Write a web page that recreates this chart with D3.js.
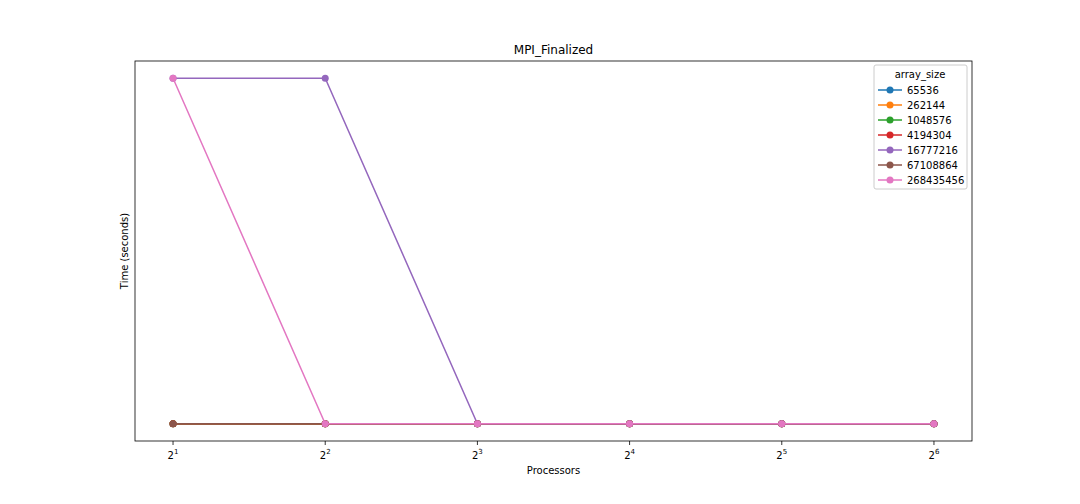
<!DOCTYPE html>
<html><head><meta charset="utf-8">
<script src="https://cdn.jsdelivr.net/npm/d3@7"></script>
<style>body{margin:0;background:#fff}text{font-family:"DejaVu Sans",sans-serif}</style>
</head><body><svg id="c" width="1080" height="504"></svg>
<script>
const procs=[2,4,8,16,32,64];
const seriesNames=["65536","262144","1048576","4194304","16777216","67108864","268435456"];
const colors=["#1f77b4","#ff7f0e","#2ca02c","#d62728","#9467bd","#8c564b","#e377c2"];
const values=[
 [0,0,0,0,0,0],
 [0,0,0,0,0,0],
 [0,0,0,0,0,0],
 [0,0,0,0,0,0],
 [1,1,0,0,0,0],
 [0,0,0,0,0,0],
 [1,0,0,0,0,0]
];
const svg=d3.select("#c");
const L=135,R=972,T=61,B=441;
const x=d3.scaleLog().base(2).domain([2*Math.pow(2,-0.25),64*Math.pow(2,0.25)]).range([L,R]);
const y=d3.scaleLinear().domain([-0.05,1.05]).range([B,T]);
svg.append("text").attr("x",(L+R)/2).attr("y",54).attr("text-anchor","middle").attr("font-size",12).text("MPI_Finalized");
const line=d3.line().x((d,i)=>x(procs[i])).y(d=>y(d));
values.forEach((v,s)=>{
 const g=svg.append("g");
 g.append("path").attr("d",line(v)).attr("fill","none").attr("stroke",colors[s]).attr("stroke-width",1.5);
 g.selectAll("circle").data(v).join("circle").attr("cx",(d,i)=>x(procs[i])).attr("cy",d=>y(d)).attr("r",3.5).attr("fill",colors[s]);
});
svg.append("rect").attr("x",L).attr("y",T).attr("width",R-L).attr("height",B-T).attr("fill","none").attr("stroke","#000").attr("stroke-width",0.8);
procs.forEach((p,i)=>{
 const px=x(p);
 svg.append("line").attr("x1",px).attr("x2",px).attr("y1",B).attr("y2",B+4).attr("stroke","#000").attr("stroke-width",0.8);
 const t=svg.append("text").attr("x",px).attr("y",B+18).attr("text-anchor","middle").attr("font-size",10);
 t.append("tspan").text("2");
 t.append("tspan").attr("dy",-5).attr("font-size",7).text(i+1);
});
svg.append("text").attr("x",(L+R)/2).attr("y",474).attr("text-anchor","middle").attr("font-size",10).text("Processors");
svg.append("text").attr("transform",`translate(128,${(T+B)/2}) rotate(-90)`).attr("text-anchor","middle").attr("font-size",10).text("Time (seconds)");
const lg=svg.append("g");
lg.append("rect").attr("x",874).attr("y",65).attr("width",93).attr("height",124).attr("rx",2).attr("fill","#fff").attr("stroke","#ccc");
lg.append("text").attr("x",920).attr("y",78).attr("text-anchor","middle").attr("font-size",10).text("array_size");
seriesNames.forEach((n,i)=>{
 const yy=90+i*15;
 lg.append("line").attr("x1",878).attr("x2",902).attr("y1",yy).attr("y2",yy).attr("stroke",colors[i]).attr("stroke-width",1.5);
 lg.append("circle").attr("cx",890).attr("cy",yy).attr("r",3.5).attr("fill",colors[i]);
 lg.append("text").attr("x",907).attr("y",yy+3.5).attr("font-size",10).text(n);
});
</script></body></html>
